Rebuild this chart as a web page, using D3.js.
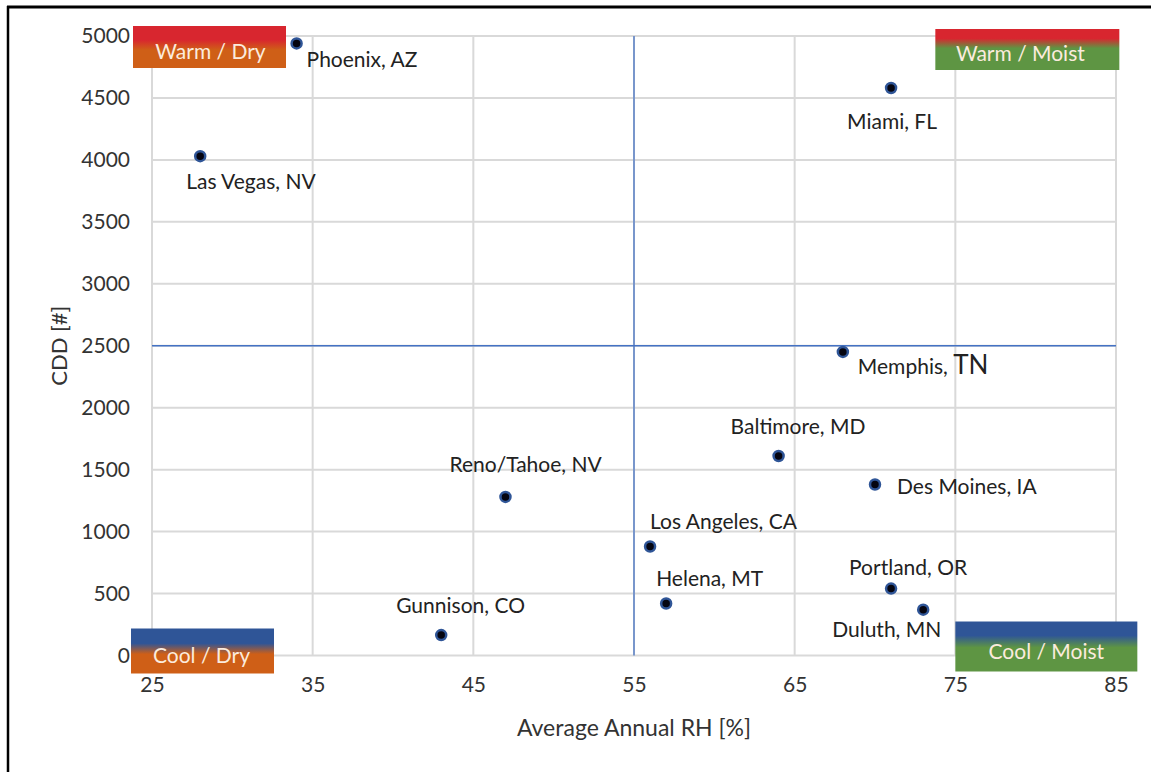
<!DOCTYPE html>
<html><head><meta charset="utf-8">
<script src="https://cdn.jsdelivr.net/npm/d3@7"></script>
<style>
html,body{margin:0;padding:0;background:#fff;}
svg{display:block;font-family:Lato,"Open Sans",sans-serif;}
</style></head>
<body>
<svg id="chart" width="1151" height="772"></svg>
<script>
// ---- data ----
const cities = ["Phoenix, AZ","Las Vegas, NV","Miami, FL","Memphis, TN","Baltimore, MD","Des Moines, IA","Reno/Tahoe, NV","Los Angeles, CA","Helena, MT","Portland, OR","Duluth, MN","Gunnison, CO"];
const rh     = [34, 28, 71, 68, 64, 70, 47, 56, 57, 71, 73, 43];
const cdd    = [4940, 4030, 4580, 2450, 1610, 1380, 1280, 880, 420, 540, 370, 165];
const xTicks = [25, 35, 45, 55, 65, 75, 85];
const yTicks = [0, 500, 1000, 1500, 2000, 2500, 3000, 3500, 4000, 4500, 5000];
const quadrants = ["Warm / Dry", "Warm / Moist", "Cool / Dry", "Cool / Moist"];
const xDivider = 55, yDivider = 2500;
const xTitle = "Average Annual RH [%]", yTitle = "CDD [#]";

// ---- layout (label offsets in px relative to the point) ----
const labelOffset = {
  "Phoenix, AZ":[10,16], "Las Vegas, NV":[-14,25], "Miami, FL":[-44,34],
  "Memphis, TN":[15,15], "Baltimore, MD":[-48,-29], "Des Moines, IA":[22,2],
  "Reno/Tahoe, NV":[-56,-32], "Los Angeles, CA":[0,-25], "Helena, MT":[-10,-25],
  "Portland, OR":[-42,-21], "Duluth, MN":[-91,20], "Gunnison, CO":[-45,-29]
};
const FS = 21;

const svg = d3.select("#chart");
const x = d3.scaleLinear().domain([25,85]).range([152,1116]);
const y = d3.scaleLinear().domain([0,5000]).range([655.5,36]);

// frame
svg.append("line").attr("x1",7).attr("x2",1151).attr("y1",7).attr("y2",7).attr("stroke","#000").attr("stroke-width",3);
svg.append("line").attr("x1",8).attr("x2",8).attr("y1",6).attr("y2",772).attr("stroke","#000").attr("stroke-width",2.5);

// gridlines
const grid = svg.append("g");
grid.selectAll(".gx").data(xTicks).join("line")
  .attr("x1",d=>x(d)).attr("x2",d=>x(d)).attr("y1",y(5000)).attr("y2",y(0))
  .attr("stroke","#d9d9d9").attr("stroke-width",2);
grid.selectAll(".gy").data(yTicks).join("line")
  .attr("x1",x(25)).attr("x2",x(85)).attr("y1",d=>y(d)).attr("y2",d=>y(d))
  .attr("stroke","#d9d9d9").attr("stroke-width",2);

// axes (labels only)
const xAxis = svg.append("g").attr("transform",`translate(0,${y(0)+22})`)
  .call(d3.axisBottom(x).tickValues(xTicks).tickFormat(d3.format("d")).tickSize(0).tickPadding(0));
xAxis.select(".domain").remove();
xAxis.selectAll("text").attr("font-size",FS).attr("fill","#333").attr("dy","0.71em").attr("font-family","Lato");
const yAxis = svg.append("g").attr("transform",`translate(${x(25)-22},0)`)
  .call(d3.axisLeft(y).tickValues(yTicks).tickFormat(d3.format("d")).tickSize(0).tickPadding(0));
yAxis.select(".domain").remove();
yAxis.selectAll("text").attr("font-size",FS).attr("fill","#333").attr("font-family","Lato");

// divider lines
svg.append("line").attr("x1",x(xDivider)).attr("x2",x(xDivider)).attr("y1",y(5000)).attr("y2",y(0))
  .attr("stroke","#4472C4").attr("stroke-width",1.3);
svg.append("line").attr("x1",x(25)).attr("x2",x(85)).attr("y1",y(yDivider)).attr("y2",y(yDivider))
  .attr("stroke","#4472C4").attr("stroke-width",1.3);

// axis titles
svg.append("text").attr("x",(x(25)+x(85))/2).attr("y",728).attr("dy","0.35em")
  .attr("text-anchor","middle").attr("font-size",23).attr("fill","#333").text(xTitle);
svg.append("text").attr("transform",`translate(59,${y(2500)})rotate(-90)`).attr("dy","0.35em")
  .attr("text-anchor","middle").attr("font-size",22).attr("fill","#333").text(yTitle);

// quadrant boxes
const defs = svg.append("defs");
const RED="#D8262F", ORANGE="#CF5F17", GREEN="#5E9543", BLUE="#2F5597";
const boxSpec = [
  {x0:x(25)-19, y0:y(5000)-10, w:153, h:42, top:RED, bot:ORANGE, split:0.45, dx:1},
  {x0:x(75)-20, y0:y(5000)-7, w:184, h:41, top:RED, bot:GREEN, split:0.35, dx:-7},
  {x0:x(25)-21, y0:y(0)-27, w:143, h:45, top:BLUE, bot:ORANGE, split:0.45, dx:-1},
  {x0:x(75), y0:y(0)-34, w:182, h:50, top:BLUE, bot:GREEN, split:0.4, dx:0}
];
boxSpec.forEach((b,i)=>{
  const g = defs.append("linearGradient").attr("id","qg"+i).attr("x1",0).attr("x2",0).attr("y1",0).attr("y2",1);
  g.append("stop").attr("offset",0).attr("stop-color",b.top);
  g.append("stop").attr("offset",b.split-0.12).attr("stop-color",b.top);
  g.append("stop").attr("offset",b.split+0.12).attr("stop-color",b.bot);
  g.append("stop").attr("offset",1).attr("stop-color",b.bot);
  svg.append("rect").attr("x",b.x0).attr("y",b.y0).attr("width",b.w).attr("height",b.h).attr("fill",`url(#qg${i})`);
  svg.append("text").attr("x",b.x0+b.w/2+b.dx).attr("y",b.y0+b.h*0.6)
    .attr("text-anchor","middle").attr("dy","0.35em").attr("font-size",FS).attr("fill","#FBEBDD").text(quadrants[i]);
});

// points
const pts = cities.map((c,i)=>({c, rh:rh[i], cdd:cdd[i]}));
svg.append("g").selectAll("circle").data(pts).join("circle")
  .attr("cx",d=>x(d.rh)).attr("cy",d=>y(d.cdd)).attr("r",5)
  .attr("fill","#050510").attr("stroke","#2F5597").attr("stroke-width",2.5);

// labels
const lab = svg.append("g").selectAll("text").data(pts).join("text")
  .attr("x",d=>x(d.rh)+labelOffset[d.c][0]).attr("y",d=>y(d.cdd)+labelOffset[d.c][1])
  .attr("dy","0.35em").attr("font-size",FS).attr("fill","#222");
lab.each(function(d){
  const t = d3.select(this);
  if (d.c === "Memphis, TN") {
    t.append("tspan").text("Memphis, ");
    t.append("tspan").attr("font-size",26).text("TN");
  } else t.text(d.c);
});
</script>
</body></html>
